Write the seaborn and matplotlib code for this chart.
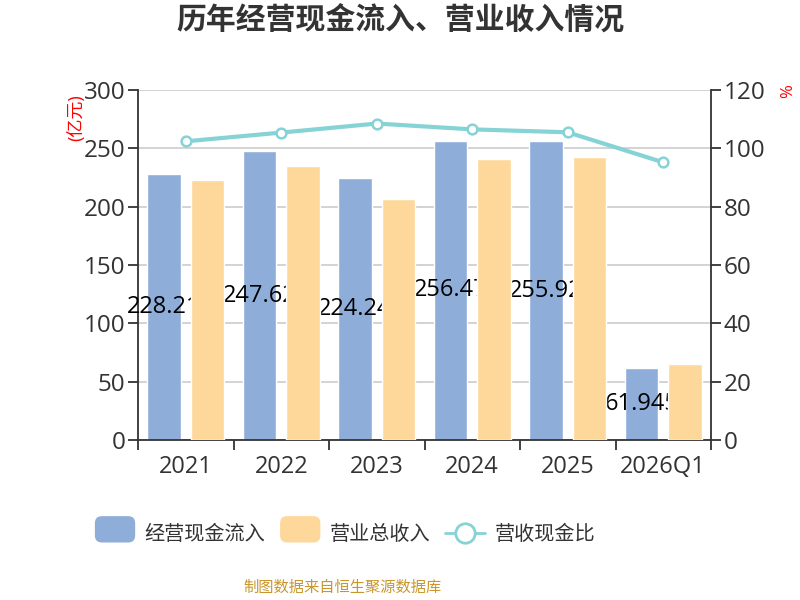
import numpy as np
import pandas as pd
import matplotlib
matplotlib.use('Agg')
import matplotlib.pyplot as plt
from matplotlib.patches import FancyBboxPatch
from matplotlib.lines import Line2D
from matplotlib.legend_handler import HandlerPatch
import seaborn as sns

# Data
years = ['2021', '2022', '2023', '2024', '2025', '2026Q1']
cash_in = [228.21, 247.62, 224.24, 256.47, 255.92, 61.945]
revenue = [222.9, 234.9, 206.6, 240.9, 242.6, 65.1]
ratio = [102.4, 105.4, 108.5, 106.5, 105.5, 95.2]

blue = '#8eaed9'
yellow = '#fed89a'
teal = '#86d3d6'
txt = '#333333'

sns.set_theme(style='white')
plt.rcParams['font.family'] = ['Open Sans', 'Noto Sans CJK SC', 'DejaVu Sans']

df = pd.DataFrame({'year': years * 2,
                   'value': cash_in + revenue,
                   'kind': ['经营现金流入'] * len(years) + ['营业总收入'] * len(years)})

fig = plt.figure(figsize=(8, 6), dpi=100)
ax = fig.add_axes([138 / 800, 1 - 440 / 600, (711 - 138) / 800, 350 / 600])

sns.barplot(data=df, x='year', y='value', hue='kind', palette=[blue, yellow],
            width=0.91, gap=0.22, ax=ax, legend=False, saturation=1)

# blue bars under the labels, yellow bars over them
n = len(years)
for k, p in enumerate(ax.patches):
    p.set_zorder(2 if k < n else 4)
for i, v in enumerate(cash_in):
    ax.text(i - 0.2275, v / 2, f'{v:g}', ha='center', va='center',
            fontsize=17, color='black', zorder=3)

ax.set_ylim(0, 300)
ax.set_yticks(np.arange(0, 301, 50))
ax.set_xlim(-0.5, n - 0.5)
ax.set_xlabel('')
ax.set_ylabel('')
ax.grid(axis='y', color='#cccccc', linewidth=1.2, zorder=0)
ax.set_axisbelow(True)
ax.spines['top'].set_visible(False)
ax.spines['right'].set_visible(False)
ax.spines['left'].set_color(txt)
ax.spines['bottom'].set_color(txt)
ax.spines['left'].set_linewidth(1.3)
ax.spines['bottom'].set_linewidth(1.3)
ax.tick_params(axis='y', left=True, length=7, width=1.3, color=txt,
               labelsize=17.5, labelcolor=txt, pad=2)
ax.tick_params(axis='x', which='major', length=0, labelsize=17, labelcolor=txt, pad=11)
ax.set_xticks(np.arange(-0.5, n), minor=True)
ax.tick_params(axis='x', which='minor', bottom=True, length=7, width=1.3, color=txt)

ax2 = ax.twinx()
sns.lineplot(x=np.arange(n), y=ratio, ax=ax2, color=teal, linewidth=3,
             marker='o', markersize=7, markerfacecolor='white',
             markeredgecolor=teal, markeredgewidth=1.8)
ax2.set_ylim(0, 120)
ax2.set_yticks(np.arange(0, 121, 20))
ax2.set_xlim(-0.5, n - 0.5)
ax2.grid(False)
for s in ['top', 'left', 'bottom']:
    ax2.spines[s].set_visible(False)
ax2.spines['right'].set_color(txt)
ax2.spines['right'].set_linewidth(1.3)
ax2.tick_params(axis='y', right=True, length=7, width=1.3, color=txt,
                labelsize=17.5, labelcolor=txt, pad=2)

fig.text(0.5, 1 - 22 / 600, '历年经营现金流入、营业收入情况', ha='center', va='center',
         fontsize=21.5, fontweight='bold', color=txt)
fig.text(76 / 800, 1 - 118 / 600, '(亿元)', rotation=90, ha='center', va='center',
         fontsize=13, color='red')
fig.text(788 / 800, 1 - 91 / 600, '%', rotation=90, ha='center', va='center',
         fontsize=12, color='red')
fig.text(342 / 800, 1 - 588 / 600, '制图数据来自恒生聚源数据库', ha='center', va='center',
         fontsize=11, color='#c8962a')


class RoundHandler(HandlerPatch):
    def create_artists(self, legend, orig, xd, yd, w, h, fs, trans):
        p = FancyBboxPatch((xd, yd - 3), w, h + 6,
                           boxstyle='round,pad=0,rounding_size=5',
                           facecolor=orig.get_facecolor(), edgecolor='none',
                           transform=trans)
        return [p]


h1 = FancyBboxPatch((0, 0), 1, 1, facecolor=blue)
h2 = FancyBboxPatch((0, 0), 1, 1, facecolor=yellow)
h3 = Line2D([], [], color=teal, linewidth=2, marker='o', markersize=14,
            markerfacecolor='white', markeredgecolor=teal, markeredgewidth=2)
fig.legend([h1, h2, h3], ['经营现金流入', '营业总收入', '营收现金比'],
           loc='center', bbox_to_anchor=(345 / 800, 1 - 535 / 600), ncol=3, frameon=False,
           fontsize=14.5, labelcolor=txt, handlelength=2.0, handleheight=1.0,
           handletextpad=0.45, columnspacing=0.75,
           handler_map={FancyBboxPatch: RoundHandler()})

fig.savefig('out.png', dpi=100)
